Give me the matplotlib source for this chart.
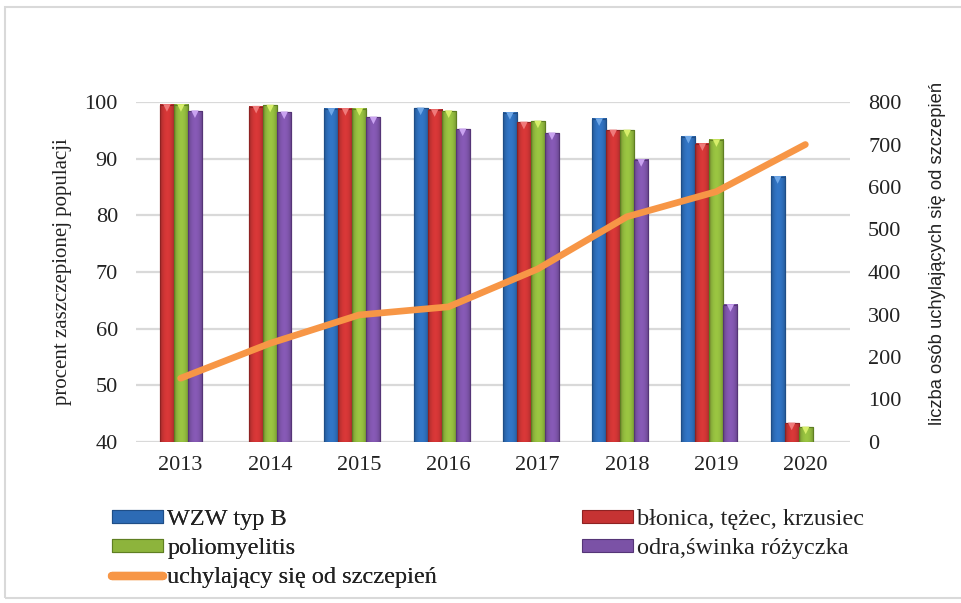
import matplotlib
matplotlib.use("Agg")
import matplotlib.pyplot as plt
from matplotlib.patches import Rectangle
from matplotlib.lines import Line2D
from matplotlib.colors import to_rgb
import numpy as np

years = ["2013", "2014", "2015", "2016", "2017", "2018", "2019", "2020"]
wzw = [np.nan, np.nan, 98.8, 98.9, 98.1, 97.0, 93.9, 86.8]
blonica = [99.5, 99.2, 98.8, 98.6, 96.4, 95.0, 92.6, 43.3]
polio = [99.5, 99.4, 98.8, 98.4, 96.6, 95.0, 93.3, 42.6]
odra = [98.4, 98.2, 97.3, 95.2, 94.5, 89.8, 64.2, np.nan]
uchyl = [150, 232, 299, 318, 407, 530, 589, 700]

series = [
    ("WZW typ B", wzw, "#2D6BB5", "#1F4E87", "#6FA8E8"),
    ("błonica, tężec, krzusiec", blonica, "#C63333", "#8E2222", "#F07A7A"),
    ("poliomyelitis", polio, "#8DB43C", "#5F7F22", "#D7EE6A"),
    ("odra,świnka różyczka", odra, "#7B52A6", "#553577", "#C9A2F0"),
]

SERIF = ["Liberation Serif", "DejaVu Serif"]
plt.rcParams["font.family"] = SERIF

fig = plt.figure(figsize=(9.62, 6.03), dpi=100)
fig.patches.append(Rectangle((5 / 962, 5 / 603), 1.2, 591 / 603, transform=fig.transFigure,
                             fill=False, edgecolor="#d9d9d9", lw=1.5))

ax = fig.add_axes([136 / 962, 1 - 442 / 603, (850 - 136) / 962, (442 - 102) / 603])
ax2 = ax.twinx()


def gradient(col):
    base = np.array(to_rgb(col))
    t = np.linspace(0, 1, 24)
    f = 0.78 + 0.32 * np.sin(np.pi * t) ** 0.7
    g = np.clip(base[None, :] * f[:, None], 0, 1)
    return g[None, :, :]


x = np.arange(len(years))
w = 0.157
shift = -0.075
handles = []
for i, (name, vals, col, edge, light) in enumerate(series):
    xs = x + shift + (i - 1.5) * w
    v = np.array(vals, dtype=float)
    bars = ax.bar(xs, v - 40, bottom=40, width=w, color=col, edgecolor=edge, lw=0.8, zorder=3, label=name)
    img = gradient(col)
    for p in bars.patches:
        if np.isnan(p.get_height()):
            continue
        x0, y0 = p.get_x(), p.get_y()
        ax.imshow(img, extent=(x0, x0 + p.get_width(), y0, y0 + p.get_height()), aspect="auto",
                  interpolation="bilinear", zorder=3.5)
        r = Rectangle((x0, y0), p.get_width(), p.get_height(), fill=False, edgecolor=edge, lw=0.8, zorder=3.6)
        ax.add_patch(r)
    m = ~np.isnan(v)
    ax.scatter(xs[m], v[m] - 0.55, marker="v", s=30, color=light, edgecolors="none", zorder=4)
    handles.append(bars)

ax.set_xlim(-0.5, len(years) - 0.5)
ax.set_ylim(40, 100)
ax.set_yticks([40, 50, 60, 70, 80, 90, 100])
ax.set_xticks(x)
ax.set_xticklabels(years)
ax.grid(axis="y", color="#d9d9d9", lw=1.6, zorder=0)
ax.set_axisbelow(True)
for s in ax.spines.values():
    s.set_visible(False)
for s in ax2.spines.values():
    s.set_visible(False)
ax.tick_params(axis="both", length=0, labelsize=16, colors="#222222")
ax.tick_params(axis="y", pad=13)
ax.tick_params(axis="x", pad=10)

ax2.plot(x, uchyl, color="#F79646", lw=4.8, solid_capstyle="round", solid_joinstyle="round", zorder=5,
         label="uchylający się od szczepień")
ax2.set_ylim(0, 800)
ax2.set_yticks(range(0, 801, 100))
ax2.tick_params(axis="y", length=0, labelsize=16, colors="#222222", pad=13)

fig.text(63 / 962, 1 - 272 / 603, "procent zaszczepionej populacji", rotation=90, ha="center", va="center",
         fontsize=15, color="#222222")
fig.text(938 / 962, 1 - 253 / 603, "liczba osób uchylających się od szczepień", rotation=90, ha="center",
         va="center", fontsize=13.2, color="#222222", family=["Liberation Sans", "DejaVu Sans"])

prop = {"family": SERIF, "size": 17.5}
lh = Line2D([], [], color="#F79646", lw=6, solid_capstyle="round")
kw = dict(loc="upper left", frameon=False, prop=prop, handlelength=2.1, handleheight=0.42,
          handletextpad=0.17, labelspacing=0.33, borderpad=0.0, borderaxespad=0.0, labelcolor="#222222")
leg1 = fig.legend([handles[0], handles[2], lh], [series[0][0], series[2][0], "uchylający się od szczepień"],
                  bbox_to_anchor=(112 / 962, 1 - 509 / 603), **kw)
leg2 = fig.legend([handles[1], handles[3]], [series[1][0], series[3][0]],
                  bbox_to_anchor=(582 / 962, 1 - 509 / 603), **kw)
fig.add_artist(leg1)

fig.savefig("out.png", dpi=100)
